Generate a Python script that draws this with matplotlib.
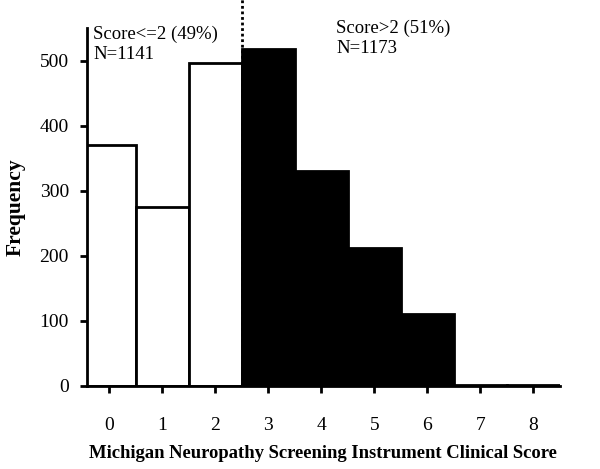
import matplotlib.pyplot as plt

# MNSI clinical score histogram
scores = [0, 1, 2, 3, 4, 5, 6, 7, 8]
counts = [370, 275, 496, 518, 330, 212, 110, 2, 1]
fills = ['white', 'white', 'white', 'black', 'black', 'black', 'black', 'black', 'black']
low_label = 'Score<=2 (49%)\nN=1141'
high_label = 'Score>2 (51%)\nN=1173'

plt.rcParams['font.family'] = ['Liberation Serif', 'DejaVu Serif']

fig = plt.figure(figsize=(6, 4.69), dpi=100)
ax = fig.add_axes([0.145, 0.177, 0.788, 0.763])

ax.bar(scores, counts, width=1.0, color=fills, edgecolor='black', linewidth=2)

# cut-off line between 2 and 3
ax.plot([2.5, 2.5], [0, 610], color='black', linestyle=(0, (1, 1)), linewidth=2, clip_on=False)

ax.text(-0.30, 554, low_label, fontsize=13.5, va='top', ha='left', linespacing=1.22)
ax.text(4.28, 563, high_label, fontsize=13.5, va='top', ha='left', linespacing=1.22)

ax.set_xlim(-0.42, 8.5)
ax.set_ylim(0, 550)
ax.set_xticks(scores)
ax.set_yticks([0, 100, 200, 300, 400, 500])

ax.spines['top'].set_visible(False)
ax.spines['right'].set_visible(False)
ax.spines['left'].set_linewidth(2)
ax.spines['bottom'].set_linewidth(2)
ax.tick_params(direction='out', width=2, length=5, labelsize=14)
ax.tick_params(axis='x', pad=17)
ax.tick_params(axis='y', pad=8)

ax.set_xlabel('Michigan Neuropathy Screening Instrument Clinical Score', fontsize=13.4, fontweight='bold', labelpad=8)
ax.set_ylabel('Frequency', fontsize=15.5, fontweight='bold', labelpad=10)

plt.savefig('out.png', dpi=100)
